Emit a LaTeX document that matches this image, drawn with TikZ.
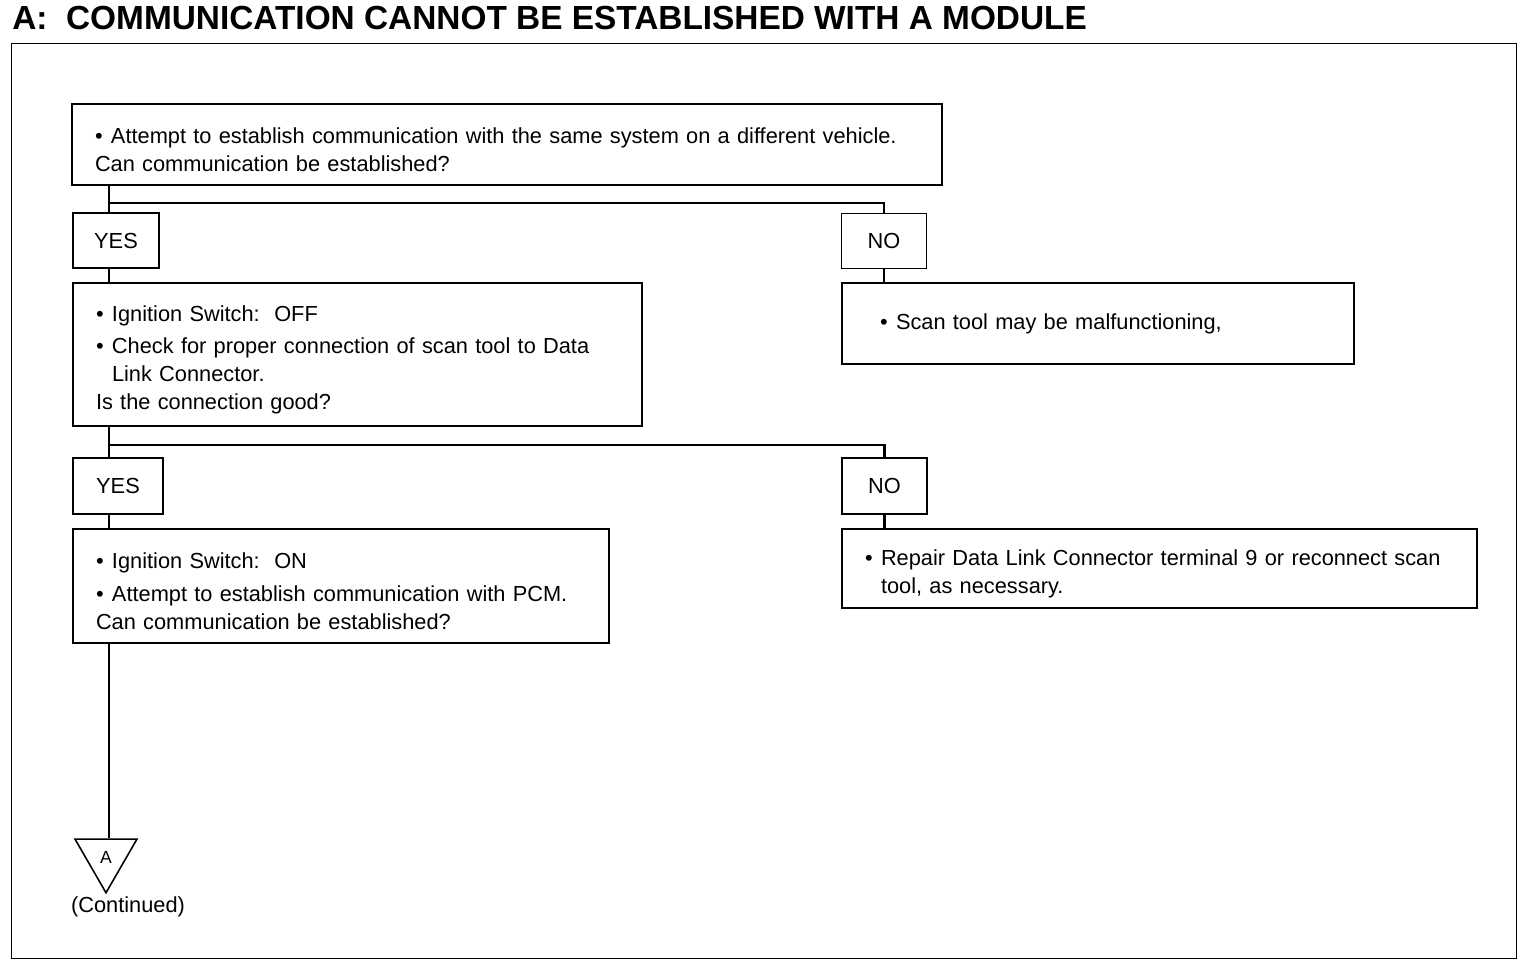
\documentclass[tikz,border=0pt]{standalone}
\usepackage{fontspec}
\setmainfont{Liberation Sans}
\usetikzlibrary{positioning,shapes.geometric,calc}
\newcommand{\bul}{\makebox[0.32cm][l]{\textbullet}}
\newcommand{\topgap}{\rule{0pt}{15pt}}
\tikzset{
    qbox/.style={draw, line width=0.7pt, align=left, inner xsep=0.46cm,
        inner ysep=0pt, font=\fontsize{12.4}{15.9}\selectfont},
    ansbox/.style={draw, line width=0.7pt, minimum width=1.72cm,
        minimum height=1.1cm, font=\fontsize{12.4}{14}\selectfont},
    flowline/.style={line width=1.4pt},
    endmark/.style={draw, line width=0.9pt, regular polygon, regular polygon sides=3,
        shape border rotate=180, minimum size=1.43cm, inner sep=0pt,
        font=\fontsize{10}{11}\selectfont}
}

\begin{document}
\begin{tikzpicture}
\useasboundingbox (0,0) rectangle (30.72,-19.32);
\draw[line width=0.7pt] (0.23,-0.87) rectangle (30.33,-19.17);
\node[anchor=base west, inner sep=0pt, font=\fontsize{19}{22}\selectfont\bfseries] (title) at (0.24,-0.6)
    {A:\ \ COMMUNICATION CANNOT BE ESTABLISHED WITH A MODULE};

% first check
\node[qbox, text width=16.48cm, minimum height=1.62cm] (q1) at (10.14,-2.89)
    {\topgap\bul Attempt to establish communication with the same system on a different vehicle.\\
     Can communication be established?};
\node[ansbox] (yes1) at (2.32,-4.81) {YES};
\node[ansbox, minimum width=1.7cm] (no1) at (17.68,-4.82) {NO};
\node[qbox, text width=10.46cm, minimum height=2.86cm] (q2) at (7.15,-7.09)
    {\topgap\bul Ignition Switch:\ \ OFF\\[0.1cm]
     \bul Check for proper connection of scan tool to Data\\
     \hspace*{0.32cm}Link Connector.\\
     Is the connection good?};
\node[qbox, text width=9.32cm, minimum height=1.62cm] (scan) at (21.96,-6.47)
    {\hspace*{0.3cm}\bul Scan tool may be malfunctioning,};

% second check
\node[ansbox, minimum width=1.8cm, minimum height=1.12cm] (yes2) at (2.36,-9.72) {YES};
\node[ansbox, minimum width=1.7cm, minimum height=1.12cm] (no2) at (17.69,-9.72) {NO};
\node[qbox, text width=9.8cm, minimum height=2.28cm] (q3) at (6.82,-11.72)
    {\topgap\bul Ignition Switch:\ \ ON\\[0.1cm]
     \bul Attempt to establish communication with PCM.\\
     Can communication be established?};
\node[qbox, text width=11.78cm, minimum height=1.58cm] (fix) at (23.19,-11.37)
    {\topgap\bul Repair Data Link Connector terminal 9 or reconnect scan\\
     \hspace*{0.32cm}tool, as necessary.};

% continuation mark
\node[endmark] (cont) at (2.12,-17.14) {A};
\node[font=\fontsize{12.4}{14}\selectfont, inner sep=0pt] (contlbl) at (2.56,-18.14) {(Continued)};

% connectors
\coordinate (trunk) at (2.18,0);
\coordinate (split1) at (2.18,-4.06);
\coordinate (split2) at (2.18,-8.9);
\draw[flowline] (trunk |- q1.south) -- (trunk |- yes1.north);
\draw[flowline] (split1) -| (no1.north);
\draw[flowline] (trunk |- yes1.south) -- (trunk |- q2.north);
\draw[flowline] (no1.south) -- (no1.south |- scan.north);
\draw[flowline] (trunk |- q2.south) -- (trunk |- yes2.north);
\draw[flowline] (split2) -| (no2.north);
\draw[flowline] (trunk |- yes2.south) -- (trunk |- q3.north);
\draw[flowline] (no2.south) -- (no2.south |- fix.north);
\draw[flowline] (trunk |- q3.south) -- (trunk |- cont.north);
\end{tikzpicture}
\end{document}
